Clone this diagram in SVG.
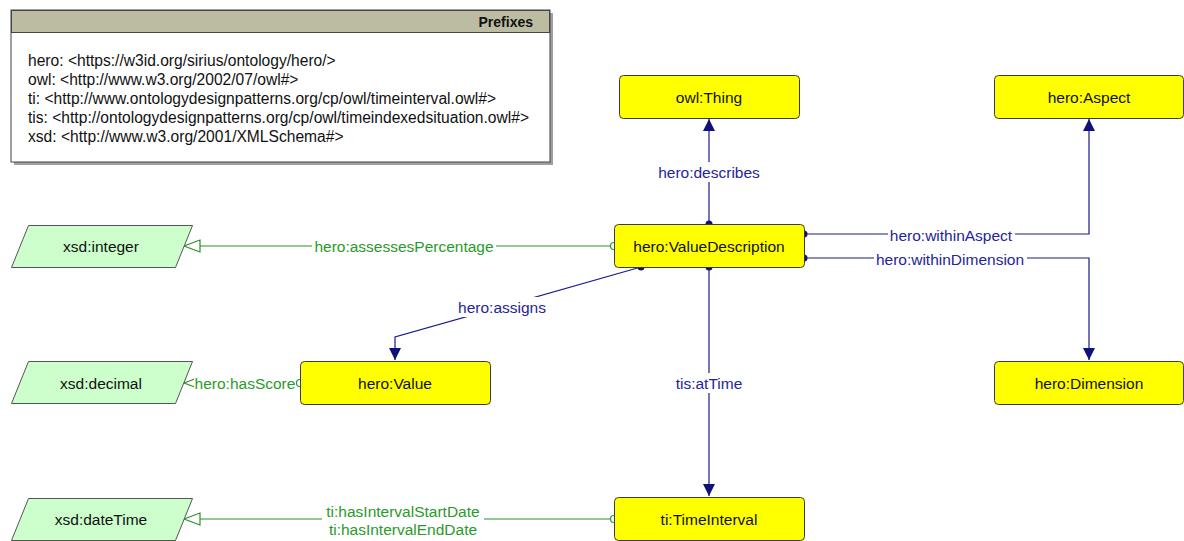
<svg xmlns="http://www.w3.org/2000/svg" width="1184" height="541" viewBox="0 0 1184 541">
<style>
.cls{fill:#ffff00;stroke:#3a3a3a;stroke-width:1}
.dt{fill:#ccffcc;stroke:#555555;stroke-width:1}
.nt{font-family:"Liberation Sans",Arial,sans-serif;font-size:15.5px;fill:#111;text-anchor:middle;dominant-baseline:central}
.obj{stroke:#1a1a8a;stroke-width:1.2;fill:none}
.dat{stroke:#2a8f2a;stroke-width:1.2;fill:none}
.ol{font-family:"Liberation Sans",Arial,sans-serif;font-size:15.5px;fill:#25259a;text-anchor:middle;dominant-baseline:central}
.dl{font-family:"Liberation Sans",Arial,sans-serif;font-size:15.5px;fill:#2a9a2a;text-anchor:middle;dominant-baseline:central}
.pt{font-family:"Liberation Sans",Arial,sans-serif;font-size:15.6px;fill:#111}
.dot{fill:#10107a}
.circ{fill:#fff;stroke:#2a9a2a;stroke-width:1.2}
</style>
<defs>
<marker id="fa" viewBox="0 0 12 12" refX="12" refY="6" markerWidth="12" markerHeight="12" markerUnits="userSpaceOnUse" orient="auto">
<path d="M0,0 L12,6 L0,12 Z" fill="#10107a"/>
</marker>
<marker id="oa" viewBox="0 0 18 14" refX="17" refY="7" markerWidth="18" markerHeight="14" markerUnits="userSpaceOnUse" orient="auto">
<path d="M1,1 L17,7 L1,13 Z" fill="#fff" stroke="#2a8f2a" stroke-width="1.2"/>
</marker>
</defs>
<rect width="1184" height="541" fill="#ffffff"/>

<g id="prefixes">
<rect x="14" y="13" width="539" height="152" fill="#a0a0a0"/>
<rect x="11" y="10" width="539" height="152" fill="#ffffff" stroke="#444" stroke-width="1"/>
<rect x="11.5" y="10.5" width="538" height="22" fill="#bcbca2" stroke="#444" stroke-width="1"/>
<text x="533" y="27" text-anchor="end" font-family="Liberation Sans,Arial,sans-serif" font-size="14" font-weight="bold" fill="#111">Prefixes</text>
<text class="pt" x="28" y="66">hero: &lt;https://w3id.org/sirius/ontology/hero/&gt;</text>
<text class="pt" x="28" y="85">owl: &lt;http://www.w3.org/2002/07/owl#&gt;</text>
<text class="pt" x="28" y="104">ti: &lt;http://www.ontologydesignpatterns.org/cp/owl/timeinterval.owl#&gt;</text>
<text class="pt" x="28" y="123">tis: &lt;http://ontologydesignpatterns.org/cp/owl/timeindexedsituation.owl#&gt;</text>
<text class="pt" x="28" y="142">xsd: &lt;http://www.w3.org/2001/XMLSchema#&gt;</text>
</g>

<g id="connectors">
<!-- hero:describes -->
<path class="obj" d="M709,224 L709,119" marker-end="url(#fa)"/>
<rect x="657" y="162" width="104" height="20" fill="#fff"/>
<text class="ol" x="709" y="172">hero:describes</text>
<circle class="dot" cx="709" cy="224" r="3.5"/>
<!-- hero:withinAspect -->
<path class="obj" d="M804,234 L1089,234 L1089,119" marker-end="url(#fa)"/>
<rect x="888" y="226" width="127" height="18" fill="#fff"/>
<text class="ol" x="951" y="235">hero:withinAspect</text>
<circle class="dot" cx="804" cy="234" r="3.5"/>
<!-- hero:withinDimension -->
<path class="obj" d="M804,258 L1089,258 L1089,360" marker-end="url(#fa)"/>
<rect x="874" y="250" width="153" height="18" fill="#fff"/>
<text class="ol" x="950" y="259">hero:withinDimension</text>
<circle class="dot" cx="804" cy="258" r="3.5"/>
<!-- hero:assigns -->
<path class="obj" d="M641,267 L395,337 L395,360" marker-end="url(#fa)"/>
<rect x="456" y="297" width="92" height="20" fill="#fff"/>
<text class="ol" x="502" y="307">hero:assigns</text>
<circle class="dot" cx="641" cy="267" r="3.5"/>
<!-- tis:atTime -->
<path class="obj" d="M709,267 L709,496" marker-end="url(#fa)"/>
<rect x="672" y="373" width="74" height="20" fill="#fff"/>
<text class="ol" x="709" y="383">tis:atTime</text>
<circle class="dot" cx="709" cy="267" r="3.5"/>
<!-- hero:assessesPercentage -->
<path class="dat" d="M610,246 L184,246" marker-end="url(#oa)"/>
<rect x="312" y="237" width="184" height="18" fill="#fff"/>
<text class="dl" x="404" y="246">hero:assessesPercentage</text>
<circle class="circ" cx="614" cy="246" r="3.5"/>
<!-- hero:hasScore -->
<path class="dat" d="M296,383 L184,383" marker-end="url(#oa)"/>
<rect x="194" y="374" width="102" height="18" fill="#fff"/>
<text class="dl" x="245" y="383">hero:hasScore</text>
<circle class="circ" cx="300" cy="383" r="3.5"/>
<!-- ti:hasIntervalStartDate / EndDate -->
<path class="dat" d="M610,519 L184,519" marker-end="url(#oa)"/>
<rect x="322" y="502" width="162" height="36" fill="#fff"/>
<text class="dl" x="403" y="511">ti:hasIntervalStartDate</text>
<text class="dl" x="403" y="529">ti:hasIntervalEndDate</text>
<circle class="circ" cx="614" cy="519" r="3.5"/>
</g>

<g id="owlThing">
<rect class="cls" x="619.5" y="75.5" width="180" height="43" rx="4"/>
<text class="nt" x="709" y="97">owl:Thing</text>
</g>
<g id="heroAspect">
<rect class="cls" x="994.5" y="75.5" width="189" height="43" rx="4"/>
<text class="nt" x="1089" y="97">hero:Aspect</text>
</g>
<g id="heroValueDescription">
<rect class="cls" x="614.5" y="224.5" width="190" height="43" rx="4"/>
<text class="nt" x="709" y="246">hero:ValueDescription</text>
</g>
<g id="heroValue">
<rect class="cls" x="300.5" y="361.5" width="190" height="43" rx="4"/>
<text class="nt" x="395" y="383">hero:Value</text>
</g>
<g id="heroDimension">
<rect class="cls" x="994.5" y="361.5" width="189" height="43" rx="4"/>
<text class="nt" x="1089" y="383">hero:Dimension</text>
</g>
<g id="tiTimeInterval">
<rect class="cls" x="614.5" y="497.5" width="190" height="43" rx="4"/>
<text class="nt" x="709" y="519">ti:TimeInterval</text>
</g>
<g id="xsdInteger">
<polygon class="dt" points="28.5,225.5 192.5,225.5 175.5,267.5 11.5,267.5"/>
<text class="nt" x="101" y="246">xsd:integer</text>
</g>
<g id="xsdDecimal">
<polygon class="dt" points="28.5,361.5 192.5,361.5 175.5,403.5 11.5,403.5"/>
<text class="nt" x="101" y="383">xsd:decimal</text>
</g>
<g id="xsdDateTime">
<polygon class="dt" points="28.5,498.5 192.5,498.5 175.5,540.5 11.5,540.5"/>
<text class="nt" x="101" y="519">xsd:dateTime</text>
</g>
</svg>
